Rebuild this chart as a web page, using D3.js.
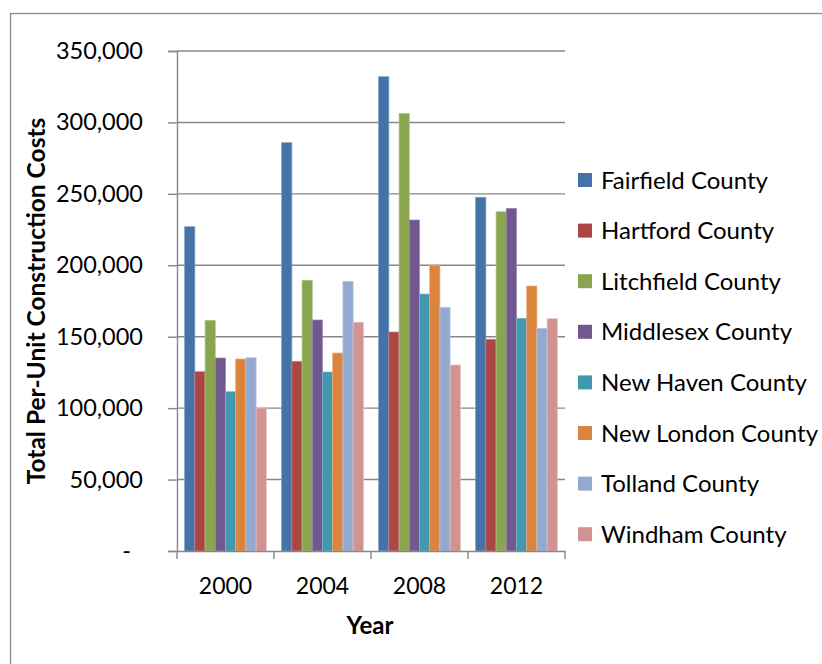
<!DOCTYPE html>
<html>
<head>
<meta charset="utf-8">
<script src="https://cdn.jsdelivr.net/npm/d3@7"></script>
<style>
  html, body { margin: 0; padding: 0; background: #fff; }
  svg { display: block; font-family: Lato, "Open Sans", sans-serif; }
</style>
</head>
<body>
<svg id="chart" width="822" height="664"></svg>
<script>
// Survey years along the category axis
const years = ["2000", "2004", "2008", "2012"];

// Counties shown as the clustered series
const counties = [
  "Fairfield County", "Hartford County", "Litchfield County", "Middlesex County",
  "New Haven County", "New London County", "Tolland County", "Windham County"
];

// Total per-unit construction cost, one value per year for each county
const fairfield  = [227000, 285800, 332000, 247600];
const hartford   = [125500, 132800, 153300, 148200];
const litchfield = [161500, 189500, 306300, 237500];
const middlesex  = [135100, 161700, 231700, 239900];
const newHaven   = [111500, 125300, 179900, 162900];
const newLondon  = [134400, 138600, 199700, 185500];
const tolland    = [135300, 188800, 170600, 155900];
const windham    = [100100, 160100, 130200, 162600];

const seriesValues = [fairfield, hartford, litchfield, middlesex, newHaven, newLondon, tolland, windham];

// Value-axis ticks
const yTicks = [0, 50000, 100000, 150000, 200000, 250000, 300000, 350000];

const colors = ["#4572A7", "#AA4643", "#89A54E", "#71588F", "#4198AF", "#DB843D", "#93A9CF", "#D19392"];
const edgeColors = ["#7C9CC6", "#C9807E", "#AEC686", "#9A86B2", "#7DBBCC", "#EDAA76", "#B9C9E4", "#E8BDBC"];

const svg = d3.select("#chart");
const plot = { left: 177, right: 565, top: 51, bottom: 551 };
const gridColor = "#878787";

// Chart frame
svg.append("rect")
  .attr("x", 10.5).attr("y", 13.5)
  .attr("width", 830).attr("height", 670)
  .attr("fill", "#fff").attr("stroke", "#8c8c8c").attr("stroke-width", 1.3);

const x0 = d3.scaleBand().domain(years).range([plot.left, plot.right]).paddingInner(0).paddingOuter(0);
const x1 = d3.scaleBand().domain(counties).range([0, x0.bandwidth()]).paddingInner(0).paddingOuter(0.75);
const y = d3.scaleLinear().domain([0, 350000]).range([plot.bottom, plot.top]);
const color = d3.scaleOrdinal().domain(counties).range(colors);
const edge = d3.scaleOrdinal().domain(counties).range(edgeColors);

// Horizontal gridlines
svg.append("g")
  .selectAll("line")
  .data(yTicks.filter(t => t > 0))
  .join("line")
  .attr("x1", plot.left).attr("x2", plot.right)
  .attr("y1", d => y(d)).attr("y2", d => y(d))
  .attr("stroke", gridColor).attr("stroke-width", 1.4);

// Bars
const rows = years.map((yr, i) => ({ year: yr, values: counties.map((c, j) => ({ county: c, value: seriesValues[j][i] })) }));

svg.append("g")
  .selectAll("g")
  .data(rows)
  .join("g")
  .attr("transform", d => `translate(${x0(d.year)},0)`)
  .selectAll("rect")
  .data(d => d.values)
  .join("rect")
  .attr("x", d => x1(d.county))
  .attr("y", d => y(d.value))
  .attr("width", x1.bandwidth())
  .attr("height", d => y(0) - y(d.value))
  .attr("fill", d => color(d.county))
  .attr("stroke", d => edge(d.county))
  .attr("stroke-width", 0.7);

// Value axis
const yAxis = d3.axisLeft(y)
  .tickValues(yTicks)
  .tickSize(9)
  .tickPadding(25)
  .tickFormat(d => d === 0 ? "-" : d3.format(",")(d));

const gy = svg.append("g")
  .attr("transform", `translate(${plot.left},0)`)
  .call(yAxis);
gy.select(".domain").attr("stroke", gridColor).attr("stroke-width", 1.4);
gy.selectAll(".tick line").attr("stroke", gridColor).attr("stroke-width", 1.4);
gy.selectAll(".tick text")
  .attr("font-size", 23.5)
  .attr("fill", "#000")
  .attr("font-family", "Lato, sans-serif")
  .attr("dx", d => d === 0 ? -12 : 0);

// Category axis with ticks between the year groups
const xAxis = d3.axisBottom(x0).tickSize(0).tickPadding(27);
const gx = svg.append("g")
  .attr("transform", `translate(0,${plot.bottom})`)
  .call(xAxis);
gx.select(".domain").attr("stroke", gridColor).attr("stroke-width", 1.4);
gx.selectAll(".tick text")
  .attr("font-size", 23)
  .attr("fill", "#000")
  .attr("font-family", "Lato, sans-serif");
gx.selectAll("line.sep")
  .data(years.map(yr => x0(yr)).concat([plot.right]))
  .join("line")
  .attr("class", "sep")
  .attr("x1", d => d).attr("x2", d => d)
  .attr("y1", 0).attr("y2", 8)
  .attr("stroke", gridColor).attr("stroke-width", 1.4);

// Axis titles
svg.append("text")
  .attr("x", 370)
  .attr("y", 634)
  .attr("text-anchor", "middle")
  .attr("font-size", 24)
  .attr("font-weight", "bold")
  .text("Year");

svg.append("text")
  .attr("transform", `translate(45,${(plot.top + plot.bottom) / 2}) rotate(-90)`)
  .attr("text-anchor", "middle")
  .attr("font-size", 24.5)
  .attr("font-weight", "bold")
  .text("Total Per-Unit Construction Costs");

// Legend
const legend = svg.append("g")
  .selectAll("g")
  .data(counties)
  .join("g")
  .attr("transform", (d, i) => `translate(578,${180 + i * 50.6})`);

legend.append("rect")
  .attr("x", 0).attr("y", -7)
  .attr("width", 14).attr("height", 14)
  .attr("fill", d => color(d));

legend.append("text")
  .attr("x", 23).attr("y", 0)
  .attr("dy", "0.36em")
  .attr("font-size", 24)
  .attr("fill", "#000")
  .text(d => d);
</script>
</body>
</html>
